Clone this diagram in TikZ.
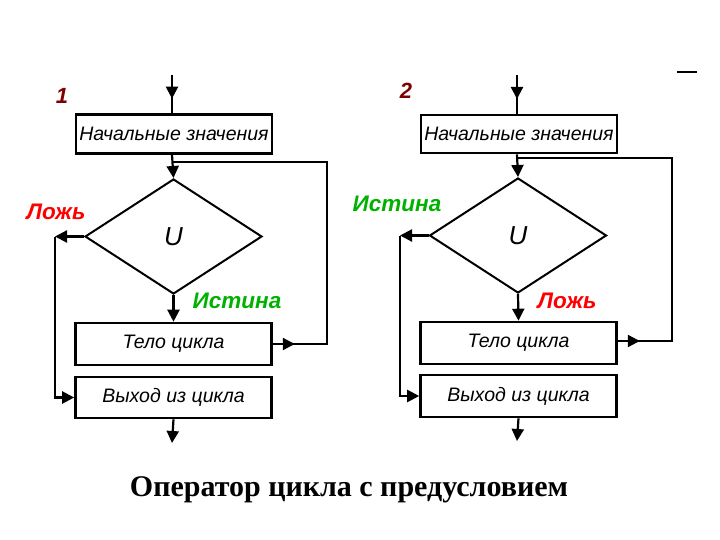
\documentclass[tikz,border=0pt]{standalone}
\usepackage{fontspec}
\setmainfont{Liberation Sans}
\newfontfamily\titlefont{Liberation Serif}
\usepackage{tikz}
\usetikzlibrary{positioning, arrows.meta, shapes.geometric, decorations.markings}

\begin{document}
\begin{tikzpicture}[
    x=1pt, y=-1pt,
    every node/.style={font=\fontsize{19.5}{21}\selectfont\itshape, align=center},
    box/.style={draw, line width=2.6pt, fill=white, inner sep=0pt,
                minimum width=196pt, minimum height=42pt},
    cond/.style={diamond, draw, line width=2pt, inner sep=0pt,
                 minimum width=177pt, minimum height=115pt,
                 font=\fontsize{26}{28}\selectfont\itshape},
    lbl/.style={font=\fontsize{22.5}{24}\selectfont\bfseries\itshape},
    num/.style={font=\fontsize{22}{24}\selectfont\bfseries\itshape, text=red!50!black},
    arr/.style={line width=2.2pt, -{Triangle[length=12pt, width=12pt]}},
    ln/.style={line width=2.2pt},
    midarr/.style={line width=2.2pt, postaction={decorate},
                   decoration={markings, mark=at position #1 with {\arrow{Triangle[length=12pt, width=12pt]}}}}
]
\useasboundingbox (0,0) rectangle (720,540);

% --- 1 ---
\node[num] (n1) at (62,96) {1};
\coordinate (in1) at (172,75);
\node[box, minimum height=39pt] (init1) at (174,134) {Начальные значения};
\node[cond] (cond1) at (173.5,236.5) {U};
\node[box] (body1) at (173.5,344) {Тело цикла};
\node[box, minimum height=41pt] (exit1) at (173.5,397.5) {Выход из цикла};
\coordinate (out1) at (172,443);
\coordinate (l1) at (55,236.5);
\coordinate (r1) at (327,344);
\coordinate (j1) at (172,162);
\node[lbl, text=red] (f1) at (56,212) {Ложь};
\node[lbl, text=green!70!black] (t1) at (237,301) {Истина};

\draw[midarr=0.62] (in1) -- (in1 |- init1.north);
\draw[arr] (init1.south -| in1) -- (cond1.north);
\draw[arr] (cond1.south) -- (body1.north);
\draw[arr] (exit1.south) -- (out1);
\draw[arr] (cond1.west) -- (l1);
\draw[arr] (l1) |- (exit1.west);
\draw[midarr=22pt] (body1.east) -- (r1) |- (j1);

% --- 2 ---
\node[num] (n2) at (406,91) {2};
\coordinate (in2) at (517,75);
\node[box, minimum height=38pt] (init2) at (519,134) {Начальные значения};
\node[cond] (cond2) at (518,235.5) {U};
\node[box] (body2) at (518.5,343) {Тело цикла};
\node[box] (exit2) at (518.5,396) {Выход из цикла};
\coordinate (out2) at (517,441);
\coordinate (l2) at (400,235.5);
\coordinate (r2) at (672,341);
\coordinate (j2) at (517,158);
\node[lbl, text=green!70!black] (t2) at (397,204) {Истина};
\node[lbl, text=red] (f2) at (567,301) {Ложь};

\draw[midarr=0.62] (in2) -- (in2 |- init2.north);
\draw[arr] (init2.south -| in2) -- (cond2.north);
\draw[arr] (cond2.south) -- (body2.north);
\draw[arr] (exit2.south) -- (out2);
\draw[arr] (cond2.west) -- (l2);
\draw[arr] (l2) |- (exit2.west);
\draw[midarr=22pt] (body2.east |- r2) -- (r2) |- (j2);

\draw[ln] (677,72) -- (697,72);

\node[font=\titlefont\fontsize{30}{33}\selectfont\bfseries] (title) at (349,490) {Оператор цикла с предусловием};
\end{tikzpicture}
\end{document}
